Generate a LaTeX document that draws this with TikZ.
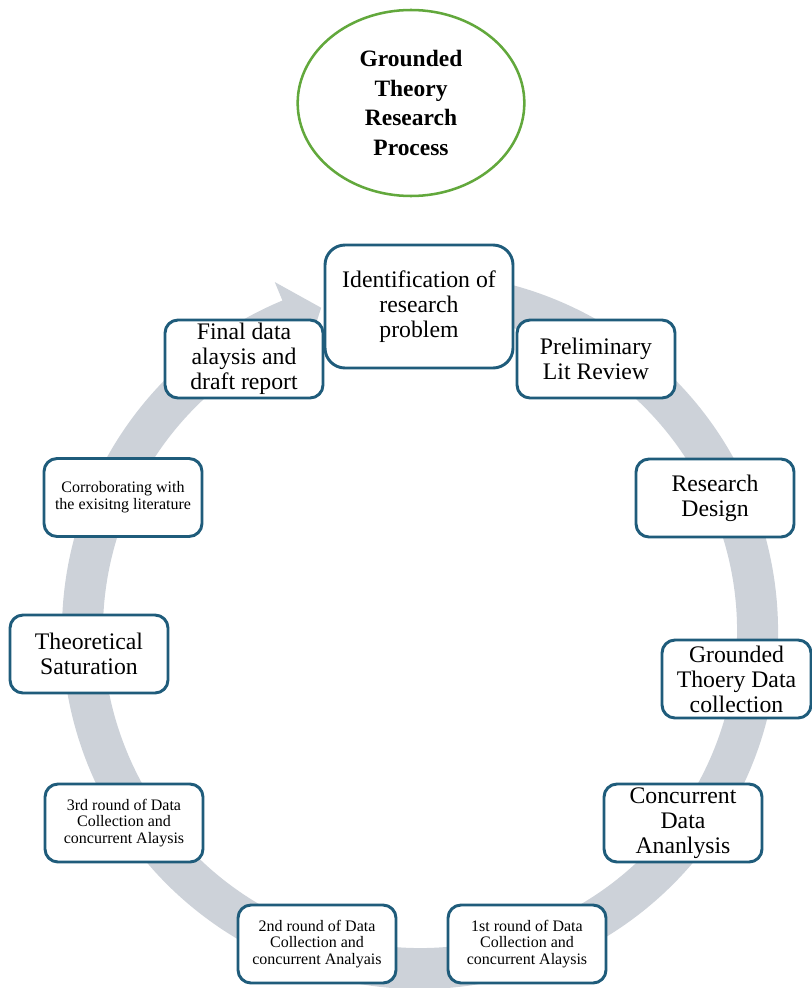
\documentclass[tikz,border=0pt]{standalone}
\usepackage{fontspec}
\setmainfont{Liberation Serif}
\usetikzlibrary{shapes.geometric}
\definecolor{verde}{HTML}{62A83C}
\definecolor{azul}{HTML}{1F5C7B}
\definecolor{anillo}{HTML}{CDD2D9}

\begin{document}
\begin{tikzpicture}[x=0.75pt,y=0.75pt,line join=round,
    paso/.style={draw=azul,line width=2.2pt,fill=white,rounded corners=9.75pt,
      align=center,inner sep=0pt,minimum width=118.5pt,minimum height=58.5pt,
      font=\fontsize{17.8}{18.8}\selectfont},
    pasochico/.style={paso,font=\fontsize{12}{12.5}\selectfont},
    pasogrande/.style={paso,rounded corners=15pt,minimum width=141pt,minimum height=92.25pt},
    pasoangosto/.style={paso,minimum width=111.75pt},
    titulo/.style={ellipse,draw=verde,line width=1.9pt,inner sep=0pt,
      minimum width=170pt,minimum height=139.5pt,align=center,
      font=\bfseries\fontsize{17.6}{22.3}\selectfont}]
  \useasboundingbox (0,0) rectangle (812,-988);
  % cycle arrow behind the boxes
  \begin{scope}[shift={(420,-631)}]
    \fill[anillo] (100:358) arc[start angle=100,end angle=-247.4,radius=358]
      -- (112.6:378) -- (107:338) -- (112.6:298) -- (112.6:317)
      arc[start angle=-247.4,end angle=100,radius=317] -- cycle;
  \end{scope}
  \node[titulo] (tit) at (411,-103) {Grounded\\Theory\\Research\\Process};
  \foreach \n/\s/\p/\t in {
      ident/pasogrande/{(419,-306.5)}/{Identification of\\research\\problem},
      litrev/paso/{(596,-359)}/{Preliminary\\Lit Review},
      diseno/paso/{(715,-498)}/{Research\\Design},
      datos/pasoangosto/{(736.5,-679)}/{Grounded\\Thoery Data\\collection},
      analisis/paso/{(683,-823)}/{Concurrent\\Data\\Ananlysis},
      ronda1/pasochico/{(527,-944)}/{1st round of Data\\Collection and\\concurrent Alaysis},
      ronda2/pasochico/{(317,-944)}/{2nd round of Data\\Collection and\\concurrent Analyais},
      ronda3/pasochico/{(124,-823)}/{3rd round of Data\\Collection and\\concurrent Alaysis},
      satur/paso/{(89,-654)}/{Theoretical\\Saturation},
      litera/pasochico/{(123,-497.5)}/{Corroborating with\\the exisitng literature},
      final/paso/{(244,-359)}/{Final data\\alaysis and\\draft report}}{
    \node[\s] (\n) at \p {\t};
  }
\end{tikzpicture}
\end{document}
